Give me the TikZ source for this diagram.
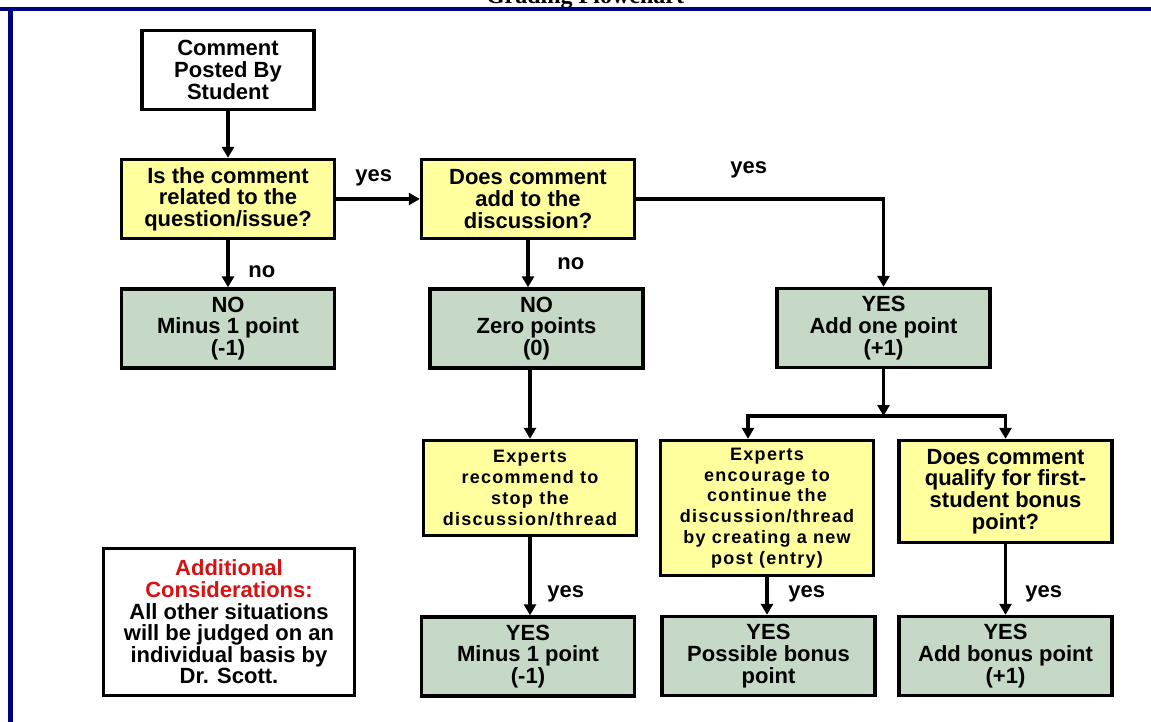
\documentclass[tikz,border=0pt]{standalone}
\usepackage{fontspec}
\setmainfont{Liberation Sans}
\newfontfamily\titlefont{Liberation Serif}
\newfontfamily\spacedfont[LetterSpace=7]{Liberation Sans}
\usetikzlibrary{arrows.meta}
\definecolor{askyellow}{RGB}{255,255,158}
\definecolor{scoregreen}{RGB}{198,216,198}
\definecolor{framenavy}{RGB}{0,0,128}
\definecolor{notered}{RGB}{214,18,18}

\begin{document}
\begin{tikzpicture}[x=0.5pt, y=-0.5pt,
    box/.style={draw=black, line width=1.7pt, align=center, inner sep=1pt, minimum width=106.5pt, minimum height=39.5pt, font=\fontsize{11}{10.8}\selectfont\bfseries},
    askbox/.style={box, fill=askyellow},
    scorebox/.style={box, fill=scoregreen},
    expertbox/.style={askbox, font=\spacedfont\bfseries\fontsize{9}{10.35}\selectfont},
    answer/.style={anchor=base west, inner sep=0pt, font=\fontsize{11}{10.8}\selectfont\bfseries},
    arrow/.style={line width=1.7pt, -{Triangle[width=6pt,length=5.5pt]}}
    ]
    \useasboundingbox (0,0) rectangle (1151,722);
    \fill [white] (0,0) rectangle (1151,722);
    \clip (0,0) rectangle (1151,722);

    \node [anchor=base, inner sep=0pt, font=\titlefont\bfseries\fontsize{12}{14}\selectfont] (title) at (585,4) {Grading Flowchart};
    \draw [framenavy, line width=2pt] (0,9) -- (1151,9);
    \draw [framenavy, line width=2.5pt] (10.5,9) -- (10.5,722);

    \node [box, fill=white, minimum width=86pt] (student) at (228,70) {Comment\\Posted By\\Student};
    \node [askbox] (related) at (228,199) {Is the comment\\related to the\\question/issue?};
    \node [askbox] (adds) at (528,199) {Does comment\\add to the\\discussion?};

    \node [scorebox] (minusno) at (228,328.5) {NO\\Minus 1 point\\(-1)};
    \node [scorebox] (zero) at (536.5,328.5) {NO\\Zero points\\(0)};
    \node [scorebox] (addone) at (883.5,328) {YES\\Add one point\\(+1)};

    \node [expertbox, minimum height=47.5pt] (stop) at (530,488) {Experts\\recommend to\\stop the\\discussion/thread};
    \node [expertbox, minimum height=67.5pt] (encourage) at (767,508) {Experts\\encourage to\\continue the\\discussion/thread\\by creating a new\\post (entry)};
    \node [askbox, minimum height=51pt] (qualify) at (1005.5,491.5) {Does comment\\qualify for first-\\student bonus\\point?};

    \node [scorebox] (minusyes) at (528,656.5) {YES\\Minus 1 point\\(-1)};
    \node [scorebox] (possible) at (768.5,656) {YES\\Possible bonus\\point};
    \node [scorebox] (bonus) at (1005.5,656) {YES\\Add bonus point\\(+1)};

    \node [box, fill=white, minimum width=125.5pt, minimum height=73.5pt] (extra) at (229,622) {\textcolor{notered}{Additional}\\\textcolor{notered}{Considerations:}\\All other situations\\will be judged on an\\individual basis by\\Dr. Scott.};

    \node [answer] (yesrelated) at (355,182) {yes};
    \node [answer] (norelated) at (248,277) {no};
    \node [answer] (noadds) at (557,269) {no};
    \node [answer] (yesadds) at (730,173) {yes};
    \node [answer] (yesstop) at (547,597) {yes};
    \node [answer] (yesencourage) at (788,597) {yes};
    \node [answer] (yesqualify) at (1025,597) {yes};

    \coordinate (split) at (883.5,416);

    \draw [arrow] (student) -- (related);
    \draw [arrow] (related) -- (adds);
    \draw [arrow] (related) -- (minusno);
    \draw [arrow] (adds) -- (adds |- zero.north);
    \draw [arrow] (adds) -| (addone);
    \draw [arrow] (addone) -- (split);
    \draw [arrow] (split) -| ([xshift=-9.5pt]encourage.north);
    \draw [arrow] (split) -| (qualify);
    \draw [arrow] (zero.south -| stop) -- (stop);
    \draw [arrow] (stop) -- (stop |- minusyes.north);
    \draw [arrow] (encourage) -- (encourage |- possible.north);
    \draw [arrow] (qualify) -- (bonus);
\end{tikzpicture}
\end{document}
